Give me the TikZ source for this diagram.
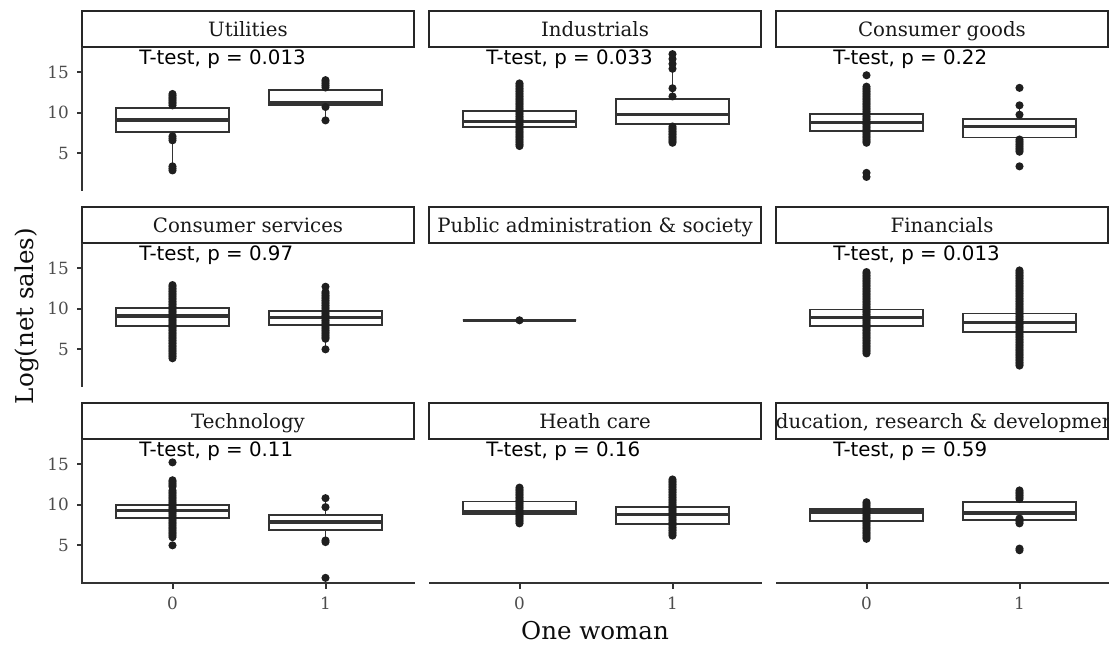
\documentclass[tikz,border=0pt]{standalone}
\usepackage{fontspec}
\setmainfont{DejaVu Serif}
\setsansfont{DejaVu Sans}

% one box with whiskers: x, lower whisker, q1, median, q3, upper whisker
\newcommand{\bplot}[6]{%
  \draw[whisk] (#1,#2) -- (#1,#3) (#1,#5) -- (#1,#6);
  \draw[boxst] ({#1-56.6},#3) rectangle ({#1+56.6},#5);
  \draw[medst] ({#1-56.6},#4) -- ({#1+56.6},#4);}
% a dense column of points from #2 to #3
\newcommand{\dotcol}[3]{%
  \pgfmathtruncatemacro{\dn}{(#3-#2)/0.2}
  \foreach \k in {0,...,\dn}{\fill[dotst] (#1,{#2+\k*(#3-#2)/max(\dn,1)}) circle (3.05pt);}}
% test label under the strip
\newcommand{\tlabel}[2]{\node[ttest] (#1) at (57,15.95) {#2};}

\begin{document}
\begin{tikzpicture}[x=0.75pt,y=-0.75pt,
    boxst/.style={draw=black!80,fill=white,line width=1.35pt},
    medst/.style={draw=black!80,line width=2.4pt},
    whisk/.style={draw=black!80,line width=1.35pt},
    dotst/.style={fill=black!88},
    ttest/.style={font=\sffamily\fontsize{14.85}{16}\selectfont,anchor=base west,inner sep=0pt},
    stripbox/.style={draw=black!85,fill=white,line width=1.6pt},
    striptext/.style={font=\fontsize{14.8}{16}\selectfont,text=black!90,anchor=base,inner sep=0pt},
    ticklab/.style={font=\fontsize{12.6}{14}\selectfont,text=black!70,inner sep=0pt},
    axline/.style={draw=black!80,line width=1.5pt},
    axtitle/.style={font=\fontsize{18.4}{20}\selectfont,text=black!95,inner sep=0pt}]
\useasboundingbox (0,0) rectangle (1118,644);

% Utilities
\begin{scope}[shift={(82,194)},y=6.1pt]
  \bplot{90.5}{3.3}{7.6}{9.1}{10.6}{12.3}
  \bplot{243.5}{9.05}{10.9}{11.2}{12.8}{14.0}
  \dotcol{90.5}{10.9}{12.3} \dotcol{90.5}{6.6}{7.1} \dotcol{90.5}{2.9}{3.4}
  \dotcol{243.5}{13.1}{14.0}
  \foreach \v in {10.7,9.05} \fill[dotst] (243.5,\v) circle (3.05pt);
  \tlabel{tt0}{T-test, p = 0.013}
\end{scope}
% Industrials
\begin{scope}[shift={(429,194)},y=6.1pt]
  \bplot{90.5}{5.9}{8.2}{8.9}{10.25}{13.6}
  \bplot{243.5}{6.3}{8.65}{9.75}{11.7}{17.2}
  \dotcol{90.5}{5.9}{13.6}
  \dotcol{243.5}{6.3}{8.3}
  \foreach \v in {17.2,16.6,16.0,15.4,13.0,12.0} \fill[dotst] (243.5,\v) circle (3.05pt);
  \tlabel{tt1}{T-test, p = 0.033}
\end{scope}
% Consumer goods
\begin{scope}[shift={(776,194)},y=6.1pt]
  \bplot{90.5}{6.3}{7.7}{8.8}{9.84}{13.2}
  \bplot{243.5}{5.2}{6.95}{8.3}{9.26}{10.9}
  \dotcol{90.5}{6.3}{13.2}
  \foreach \v in {14.6,2.6,2.1} \fill[dotst] (90.5,\v) circle (3.05pt);
  \dotcol{243.5}{5.2}{6.7}
  \foreach \v in {13.05,10.9,9.75,3.4} \fill[dotst] (243.5,\v) circle (3.05pt);
  \tlabel{tt2}{T-test, p = 0.22}
\end{scope}
% Consumer services
\begin{scope}[shift={(82,390)},y=6.1pt]
  \bplot{90.5}{3.9}{7.83}{9.1}{10.1}{12.9}
  \bplot{243.5}{5.0}{8.04}{8.94}{9.7}{12.7}
  \dotcol{90.5}{3.9}{12.9}
  \dotcol{243.5}{6.3}{12.05}
  \foreach \v in {12.7,5.0} \fill[dotst] (243.5,\v) circle (3.05pt);
  \tlabel{tt3}{T-test, p = 0.97}
\end{scope}
% Public administration & society
\begin{scope}[shift={(429,390)},y=6.1pt]
  \bplot{90.5}{8.57}{8.57}{8.57}{8.57}{8.57}
  \fill[dotst] (90.5,8.57) circle (3.05pt);
\end{scope}
% Financials
\begin{scope}[shift={(776,390)},y=6.1pt]
  \bplot{90.5}{4.5}{7.9}{8.9}{9.9}{14.5}
  \bplot{243.5}{3.0}{7.15}{8.3}{9.4}{14.7}
  \dotcol{90.5}{4.5}{14.5}
  \dotcol{243.5}{3.0}{14.7}
  \tlabel{tt5}{T-test, p = 0.013}
\end{scope}
% Technology
\begin{scope}[shift={(82,586)},y=6.1pt]
  \bplot{90.5}{6.0}{8.4}{9.3}{10.0}{11.75}
  \bplot{243.5}{5.5}{6.84}{7.86}{8.77}{11.0}
  \dotcol{90.5}{12.2}{13.0} \dotcol{90.5}{6.0}{11.75}
  \foreach \v in {15.2,5.0} \fill[dotst] (90.5,\v) circle (3.05pt);
  \dotcol{243.5}{10.8}{11.0} \dotcol{243.5}{9.7}{9.9}
  \dotcol{243.5}{5.4}{5.6} \dotcol{243.5}{1.0}{1.2}
  \tlabel{tt6}{T-test, p = 0.11}
\end{scope}
% Heath care
\begin{scope}[shift={(429,586)},y=6.1pt]
  \bplot{90.5}{7.7}{8.9}{9.2}{10.4}{12.1}
  \bplot{243.5}{6.2}{7.66}{8.8}{9.7}{13.1}
  \dotcol{90.5}{7.7}{12.1}
  \dotcol{243.5}{6.2}{13.1}
  \tlabel{tt7}{T-test, p = 0.16}
\end{scope}
% Education, research & development
\begin{scope}[shift={(776,586)},y=6.1pt]
  \bplot{90.5}{5.8}{8.0}{9.1}{9.5}{10.3}
  \bplot{243.5}{7.7}{8.07}{8.98}{10.3}{11.75}
  \dotcol{90.5}{5.8}{10.3}
  \dotcol{243.5}{10.7}{11.75} \dotcol{243.5}{7.7}{8.3}
  \dotcol{243.5}{4.4}{4.6}
  \tlabel{tt8}{T-test, p = 0.59}
\end{scope}

% facet strips
\foreach \lab [count=\i from 0] in {Utilities,Industrials,Consumer goods,Consumer services,Public administration \& society,Financials,Technology,Heath care,{Education, research \& development}}{
  \pgfmathsetmacro{\sx}{82+347*mod(\i,3)}
  \pgfmathsetmacro{\sy}{11+196*int(\i/3)}
  \draw[stripbox] (\sx,\sy) rectangle ++(332,36);
  \begin{scope}
    \clip (\sx,\sy) rectangle ++(332,36);
    \node[striptext] (strip\i) at (\sx+166,\sy+25.7) {\lab};
  \end{scope}
}

% axes
\foreach \r in {0,1}
  \draw[axline] (81.5,{47+196*\r}) -- (81.5,{190.5+196*\r});
\draw[axline] (81.5,439) -- (81.5,583) -- (415,583);
\draw[axline] (429,583) -- (762,583);
\draw[axline] (776,583) -- (1109,583);
\foreach \r in {0,1,2}
  \foreach \t in {5,10,15}{
    \draw[axline] (77,{194+196*\r-8.13*\t}) -- (81.5,{194+196*\r-8.13*\t});
    \node[ticklab,anchor=east] (yt-\r-\t) at (69,{194+196*\r-8.13*\t}) {\t};
  }
\foreach \c in {0,1,2}
  \foreach \g in {0,1}{
    \draw[axline] ({172.5+347*\c+153*\g},583) -- ({172.5+347*\c+153*\g},589);
    \node[ticklab,anchor=north] (xt-\c-\g) at ({172.5+347*\c+153*\g},597) {\g};
  }
\node[axtitle,anchor=base] (xtitle) at (595,639.3) {One woman};
\node[axtitle,rotate=90,anchor=base] (ytitle) at (33,316) {Log(net sales)};
\end{tikzpicture}
\end{document}
